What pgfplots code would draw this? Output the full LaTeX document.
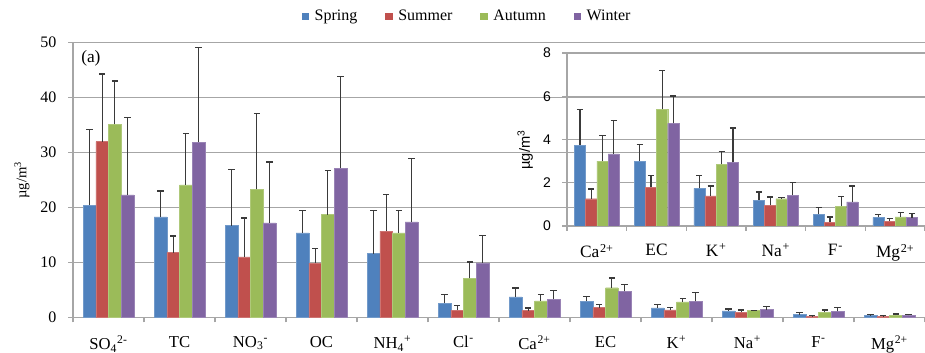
\documentclass[border=0pt]{standalone}
\usepackage{fontspec}
\setmainfont{Liberation Serif}
\newfontfamily\arialfont{Liberation Sans}
\usepackage{pgfplots}
\usepackage{pgfplotstable}
\pgfplotsset{compat=1.18}

\definecolor{cSpring}{HTML}{4F81BD}
\definecolor{cSummer}{HTML}{C0504D}
\definecolor{cAutumn}{HTML}{9BBB59}
\definecolor{cWinter}{HTML}{8064A2}
\definecolor{gridgray}{HTML}{A6A6A6}
\definecolor{errgray}{HTML}{3A3A3A}

% ion label: element, subscript, then charge
\newcommand\ion[3]{#1\textsubscript{#2}\textsuperscript{#3}}

% seasonal mean concentrations (y) and upper standard deviation (e), ug/m3
\pgfplotstableread{
x y e
0 20.4 13.8
1 18.3 4.7
2 16.7 10.2
3 15.4 4.0
4 11.6 7.8
5 2.63 1.5
6 3.74 1.65
7 2.99 0.79
8 1.74 0.60
9 1.19 0.38
10 0.54 0.32
11 0.40 0.14
}\spring
\pgfplotstableread{
x y e
0 32.0 12.3
1 11.8 3.0
2 11.0 7.1
3 9.9 2.6
4 15.7 6.7
5 1.36 0.84
6 1.26 0.45
7 1.80 0.53
8 1.39 0.46
9 0.97 0.37
10 0.18 0.24
11 0.22 0.12
}\summer
\pgfplotstableread{
x y e
0 35.1 7.9
1 24.1 9.3
2 23.3 13.8
3 18.7 8.0
4 15.4 4.0
5 7.1 3.0
6 3.0 1.18
7 5.41 1.77
8 2.85 0.59
9 1.26 0.07
10 0.92 0.45
11 0.42 0.20
}\autumn
\pgfplotstableread{
x y e
0 22.3 14.1
1 31.9 17.2
2 17.2 11.1
3 27.1 16.7
4 17.4 11.5
5 9.95 4.95
6 3.34 1.53
7 4.75 1.26
8 2.94 1.59
9 1.43 0.57
10 1.11 0.74
11 0.39 0.20
}\winter

% small square legend swatches for the bar series
\pgfplotsset{
  /pgfplots/ybar legend/.style={
    /pgfplots/legend image code/.code={%
      \fill[#1, draw=none] (0pt,-2.7pt) rectangle (5.4pt,2.7pt);
      \path (7.5pt,0pt);}},
}

\pgfplotsset{
  seasonbars/.style={
    ybar, scale only axis,
    axis lines*=left,
    axis line style={gridgray, line width=0.8pt},
    ymajorgrids, grid style={gridgray, line width=0.8pt},
    tick align=outside,
    major x tick style={draw=none},
    minor x tick style={gridgray, line width=0.8pt},
    y tick style={gridgray, line width=0.8pt},
    major tick length=3.5pt, minor tick length=3.75pt,
    /pgf/number format/assume math mode=true,
  },
  errs/.style={
    error bars/.cd, y dir=plus, y explicit,
    error bar style={line width=0.9pt, errgray},
    error mark options={rotate=90, line width=1pt, mark size=2.3pt, errgray},
  },
}

\begin{document}
\begin{tikzpicture}
\path[use as bounding box] (0,0) rectangle (693.75pt,264.75pt);

% main panel
\begin{axis}[seasonbars,
  at={(54.75pt,26.625pt)}, anchor=south west,
  width=639pt, height=206.25pt,
  xmin=-0.5, xmax=11.5, ymin=0, ymax=50,
  ytick={0,10,...,50},
  xtick={0,...,11},
  minor xtick={-0.5,0.5,...,11.5},
  xticklabels={\ion{SO}{4}{2-}, TC, \ion{NO}{3}{-}, OC, \ion{NH}{4}{+}, \ion{Cl}{}{-},
    \ion{Ca}{}{2+}, EC, \ion{K}{}{+}, \ion{Na}{}{+}, \ion{F}{}{-}, \ion{Mg}{}{2+}},
  xticklabel style={font=\fontsize{12.5}{14}\selectfont, yshift=-7pt},
  yticklabel style={font=\fontsize{12}{14}\selectfont, xshift=-5.5pt},
  ylabel={µg/m\textsuperscript{3}},
  ylabel style={font=\fontsize{11}{13}\selectfont, at={(axis description cs:-0.06,0.5)}, anchor=center},
  legend style={at={(0.463,1.096)}, anchor=center, draw=none, fill=none,
    legend columns=4, font=\fontsize{12}{14}\selectfont, inner sep=0pt,
    /tikz/every even column/.append style={column sep=19pt}},
  legend cell align=left,
]
\addplot[fill=cSpring, draw=cSpring!80!white, line width=0.3pt, bar width=9.5pt, bar shift=-14.25pt, errs]
  table[x=x, y=y, y error=e] {\spring};
\addplot[fill=cSummer, draw=cSummer!80!white, line width=0.3pt, bar width=9.5pt, bar shift=-4.75pt, errs]
  table[x=x, y=y, y error=e] {\summer};
\addplot[fill=cAutumn, draw=cAutumn!80!white, line width=0.3pt, bar width=9.5pt, bar shift=4.75pt, errs]
  table[x=x, y=y, y error=e] {\autumn};
\addplot[fill=cWinter, draw=cWinter!80!white, line width=0.3pt, bar width=9.5pt, bar shift=14.25pt, errs]
  table[x=x, y=y, y error=e] {\winter};
\legend{Spring, Summer, Autumn, Winter}
\node[font=\fontsize{13}{15}\selectfont] at (axis description cs:0.021,0.944) {(a)};
\end{axis}

% inset: minor species on a finer scale
\begin{axis}[seasonbars,
  at={(425.25pt,95.25pt)}, anchor=south west,
  width=268.5pt, height=129.75pt,
  xmin=5.5, xmax=11.5, ymin=0, ymax=8,
  restrict x to domain=5.9:11.1,
  ytick={0,2,...,8},
  xtick={6,...,11},
  minor xtick={5.5,6.5,...,11.5},
  xticklabels={\ion{Ca}{}{2+}, EC, \ion{K}{}{+}, \ion{Na}{}{+}, \ion{F}{}{-}, \ion{Mg}{}{2+}},
  xticklabel style={font=\fontsize{13}{15}\selectfont, yshift=-6.5pt},
  yticklabel style={font=\arialfont\fontsize{10.5}{12}\selectfont, xshift=-5pt},
  ylabel={\arialfont µg/m\textsuperscript{3}},
  ylabel style={font=\fontsize{11}{13}\selectfont, at={(axis description cs:-0.117,0.44)}, anchor=center},
]
\addplot[fill=cSpring, draw=cSpring!80!white, line width=0.3pt, bar width=8.4pt, bar shift=-12.6pt, errs]
  table[x=x, y=y, y error=e] {\spring};
\addplot[fill=cSummer, draw=cSummer!80!white, line width=0.3pt, bar width=8.4pt, bar shift=-4.2pt, errs]
  table[x=x, y=y, y error=e] {\summer};
\addplot[fill=cAutumn, draw=cAutumn!80!white, line width=0.3pt, bar width=8.4pt, bar shift=4.2pt, errs]
  table[x=x, y=y, y error=e] {\autumn};
\addplot[fill=cWinter, draw=cWinter!80!white, line width=0.3pt, bar width=8.4pt, bar shift=12.6pt, errs]
  table[x=x, y=y, y error=e] {\winter};
\end{axis}
\end{tikzpicture}
\end{document}
